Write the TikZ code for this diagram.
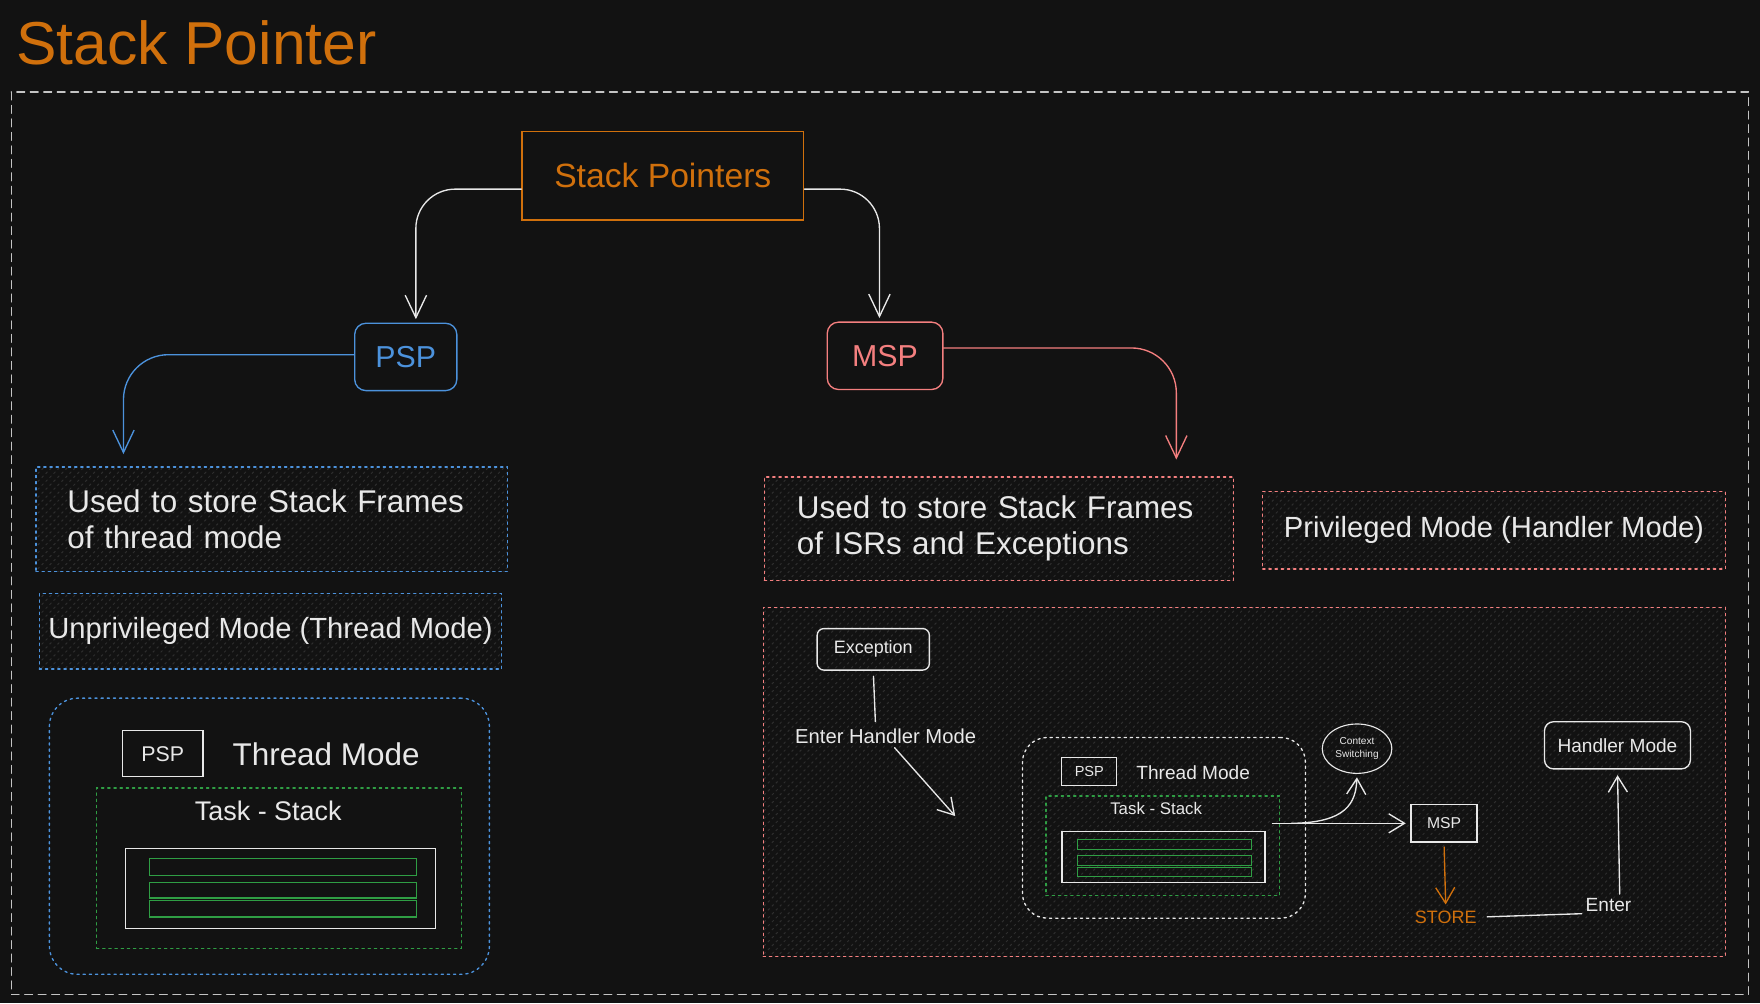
\documentclass[tikz,border=0pt]{standalone}
\usepackage{fontspec}
\setmainfont{Liberation Sans}
\usetikzlibrary{arrows.meta}
\usetikzlibrary{calc}
\usetikzlibrary{patterns.meta}
\usetikzlibrary{shapes.geometric}

\definecolor{bgc}{HTML}{121212}
\definecolor{hatchc}{HTML}{2E2E2E}
\definecolor{inkc}{HTML}{E8E8E8}
\definecolor{framec}{HTML}{C4C4C4}
\definecolor{orangec}{HTML}{D0700C}
\definecolor{bluec}{HTML}{4C92DC}
\definecolor{redc}{HTML}{F47F7F}
\definecolor{greenc}{HTML}{2F9E44}

\tikzset{
    fnt/.style 2 args={font=\fontsize{#1}{#2}\selectfont},
    sized/.style 2 args={minimum width=#1, minimum height=#2, inner sep=0pt},
    hatched/.style={pattern={Lines[angle=45,distance=5pt,line width=0.9pt]}, pattern color=hatchc},
    solidbox/.style={draw=#1, line width=1.2pt},
    dotbox/.style={draw=#1, line width=1.2pt, dash pattern=on 2pt off 3.5pt},
    link/.style={draw=#1, line width=1.2pt, ->},
    sarr/.style={-{Straight Barb[length=14pt,width=17pt]}},
    inktext/.style={text=inkc},
}

\begin{document}
\begin{tikzpicture}[x=1pt, y=-1pt, >={Straight Barb[length=20pt,width=19pt]}, line cap=round]

    \fill[bgc] (0,0) rectangle (1568,894);
    \useasboundingbox (0,0) rectangle (1568,894);

    \node[fnt={54}{60}, text=orangec] (title) at (175,38) {Stack Pointer};
    \draw[framec, line width=1.1pt, dash pattern=on 7pt off 5pt] (10,82) rectangle (1558,886);

    \node[solidbox=orangec, sized={251pt}{79pt}, fnt={30}{36}, text=orangec] (sp) at (590.5,156.5) {Stack Pointers};
    \node[solidbox=bluec, rounded corners=10pt, sized={91pt}{60pt}, fnt={27}{32}, text=bluec] (psp) at (361.5,318) {PSP};
    \node[solidbox=redc, rounded corners=10pt, sized={103pt}{60pt}, fnt={27}{32}, text=redc] (msp) at (788.5,317) {MSP};

    % left column
    \node[dotbox=bluec, hatched, sized={420pt}{93pt}, inner xsep=28pt, text width=364pt, align=left,
        fnt={28}{32}, inktext] (ul) at (242,462.5) {Used to store Stack Frames\\of thread mode};
    \node[dotbox=bluec, hatched, sized={412pt}{67pt}, fnt={26}{30}, inktext] (up) at (241,562.5) {Unprivileged Mode (Thread Mode)};

    \node[dotbox=bluec, rounded corners=25pt, sized={392pt}{246pt}] (tml) at (240,745) {};
    \node[solidbox=inkc, sized={72pt}{41pt}, fnt={19}{22}, inktext] (pspl) at (145,671.5) {PSP};
    \node[fnt={28}{32}, inktext] (tmlt) at (290.5,672) {Thread Mode};
    \node[dotbox=greenc, sized={325pt}{143pt}] (tsl) at (248.5,773.5) {};
    \node[fnt={24}{28}, inktext] (tslt) at (239,722) {Task - Stack};
    \node[solidbox=inkc, sized={276pt}{71pt}] (stl) at (250,791.5) {};
    \foreach \t/\b in {765/780,786/800,802/817}
        \draw[greenc, line width=1pt] (133,\t) rectangle (371,\b);

    % right column
    \node[dotbox=redc, hatched, sized={418pt}{92pt}, inner xsep=29pt, text width=360pt, align=left,
        fnt={28}{32}, inktext] (ur) at (890,471) {Used to store Stack Frames\\of ISRs and Exceptions};
    \node[dotbox=redc, hatched, sized={412pt}{69pt}, fnt={26}{30}, inktext] (pr) at (1331,472.5) {Privileged Mode (Handler Mode)};

    \node[dotbox=redc, hatched, sized={857pt}{311pt}] (big) at (1108.5,696.5) {};
    \node[solidbox=inkc, rounded corners=6pt, sized={100pt}{37pt}, fnt={16}{19}, inktext] (exc) at (778,578.5) {Exception};
    \node[fnt={18}{21}, inktext] (ehm) at (789,656) {Enter Handler Mode};
    \coordinate (tmin) at (851,727);

    \node[dotbox=inkc, rounded corners=22pt, sized={252pt}{161pt}] (tmr) at (1037,737.5) {};
    \node[solidbox=inkc, line width=1pt, sized={49pt}{25pt}, fnt={13}{15}, inktext] (pspr) at (970.5,687.5) {PSP};
    \node[fnt={17}{20}, inktext] (tmrt) at (1063,688) {Thread Mode};
    \node[dotbox=greenc, sized={208pt}{89pt}] (tsr) at (1036,753.5) {};
    \node[fnt={15}{18}, inktext] (tsrt) at (1030,720) {Task - Stack};
    \node[solidbox=inkc, sized={181pt}{45pt}] (str) at (1036.5,763.5) {};
    \foreach \t/\b in {748/757,762/771,773/781}
        \draw[greenc, line width=1pt] (960,\t) rectangle (1115,\b);

    \node[ellipse, draw=inkc, line width=1pt, sized={62pt}{44pt}, fnt={9}{11}, inktext, align=center] (ctx) at (1209,667) {Context\\Switching};
    \node[solidbox=inkc, sized={59pt}{33pt}, fnt={14}{17}, inktext] (msp2) at (1286.5,733.5) {MSP};
    \node[fnt={16}{19}, text=orangec] (store) at (1288,817) {STORE};
    \node[fnt={17}{20}, inktext] (enter) at (1433,806) {Enter};
    \node[solidbox=inkc, rounded corners=8pt, sized={130pt}{42pt}, fnt={17}{20}, inktext] (hm) at (1441,664) {Handler Mode};

    % connectors
    \draw[link=inkc, rounded corners=35pt] ([yshift=-12pt]sp.west) -| ([xshift=9pt,yshift=3pt]psp.north);
    \draw[link=inkc, rounded corners=35pt] ([yshift=-12pt]sp.east) -| ([xshift=-5pt,yshift=3pt]msp.north);
    \draw[link=bluec, rounded corners=40pt] ([yshift=2pt]psp.west) -| ([xshift=-132pt,yshift=11pt]ul.north);
    \draw[link=redc, rounded corners=40pt] ([yshift=7pt]msp.east) -| ([xshift=158pt,yshift=15pt]ur.north);

    \draw[inkc, line width=1.2pt, shorten <=5pt, shorten >=3pt] (exc.south) -- ([xshift=-9pt]ehm.north);
    \draw[link=inkc, sarr] ([xshift=8pt]ehm.south) -- (tmin);
    \draw[link=inkc, sarr, shorten >=4pt] ([xshift=-7pt,yshift=20pt]tsr.east) -- (msp2.west);
    \draw[link=inkc, sarr, shorten >=3pt] ([xshift=10pt,yshift=20pt]tsr.east) .. controls (1200,733) and (1208,715) .. (ctx.south);
    \draw[link=orangec, sarr, shorten <=4pt, shorten >=2pt] (msp2.south) -- (store.north);
    \draw[inkc, line width=1.2pt, shorten <=6pt] (store.east) -- ([yshift=-8pt]enter.west);
    \draw[link=inkc, sarr, shorten >=5pt] ([xshift=10pt]enter.north) -- (hm.south);

\end{tikzpicture}
\end{document}
